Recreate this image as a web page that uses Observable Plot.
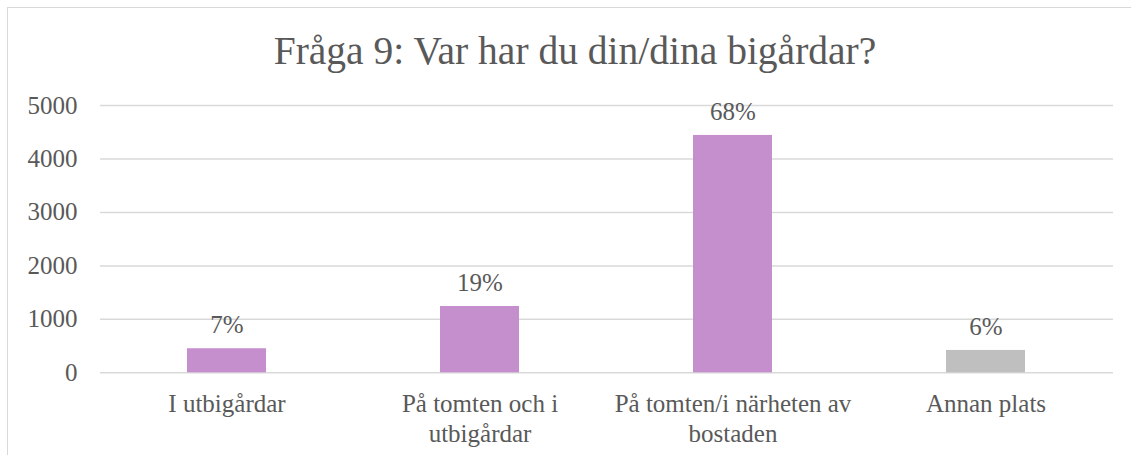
<!DOCTYPE html>
<html>
<head>
<meta charset="utf-8">
<script src="https://cdn.jsdelivr.net/npm/d3@7"></script>
<script src="https://cdn.jsdelivr.net/npm/@observablehq/plot@0.6"></script>
<style>
  html, body { margin: 0; padding: 0; background: #fff; }
  #wrap { position: relative; width: 1131px; height: 455px; overflow: hidden; background: #fff; }
  #frame { position: absolute; left: 7px; top: 7px; width: 1200px; height: 520px; border: 1.5px solid #d9d9d9; box-sizing: border-box; }
  #title { position: absolute; left: 0; top: 32px; width: 1150px; text-align: center; font-family: "Liberation Serif", serif; font-size: 39.5px; line-height: 1; color: #595959; white-space: nowrap; }
  #chart { position: absolute; left: 0; top: 88px; }
</style>
</head>
<body>
<div id="wrap">
  <div id="frame"></div>
  <div id="title">Fråga 9: Var har du din/dina bigårdar?</div>
  <div id="chart"></div>
</div>
<script>
const categories = ["I utbigårdar", "På tomten och i utbigårdar", "På tomten/i närheten av bostaden", "Annan plats"];
const categoryLabels = ["I utbigårdar", "På tomten och i\nutbigårdar", "På tomten/i närheten av\nbostaden", "Annan plats"];
const values = [450, 1240, 4440, 418];
const percentLabels = ["7%", "19%", "68%", "6%"];
const barColors = ["#c58fce", "#c58fce", "#c58fce", "#bfbfbf"];
const yTicks = [0, 1000, 2000, 3000, 4000, 5000];

const data = categories.map((c, i) => ({
  category: c,
  label: categoryLabels[i],
  value: values[i],
  pct: percentLabels[i],
  color: barColors[i]
}));

const textColor = "#595959";

const chart = Plot.plot({
  width: 1131,
  height: 367,
  marginLeft: 100,
  marginRight: 18,
  marginTop: 17,
  marginBottom: 82.7,
  style: { fontFamily: "'Liberation Serif', serif", background: "transparent", color: textColor },
  x: { domain: categories, paddingInner: 0.686, paddingOuter: 0.343, axis: null },
  y: { domain: [0, 5000], axis: null },
  marks: [
    Plot.ruleY(yTicks, { stroke: "#d9d9d9", strokeWidth: 1.5 }),
    Plot.axisY(yTicks, {
      tickSize: 0,
      tickPadding: 23,
      fontSize: 25,
      fill: textColor,
      label: null,
      tickFormat: d => String(d)
    }),
    Plot.barY(data, { x: "category", y: "value", fill: "color", inset: 0 }),
    Plot.text(data, {
      x: "category",
      y: "value",
      text: "pct",
      lineAnchor: "bottom",
      dy: -15.5,
      fontSize: 25,
      fill: textColor
    }),
    Plot.text(data, {
      x: "category",
      frameAnchor: "bottom",
      text: "label",
      lineAnchor: "top",
      lineHeight: 1.2,
      dy: 18,
      fontSize: 25,
      fill: textColor
    })
  ]
});

document.getElementById("chart").appendChild(chart);
</script>
</body>
</html>
